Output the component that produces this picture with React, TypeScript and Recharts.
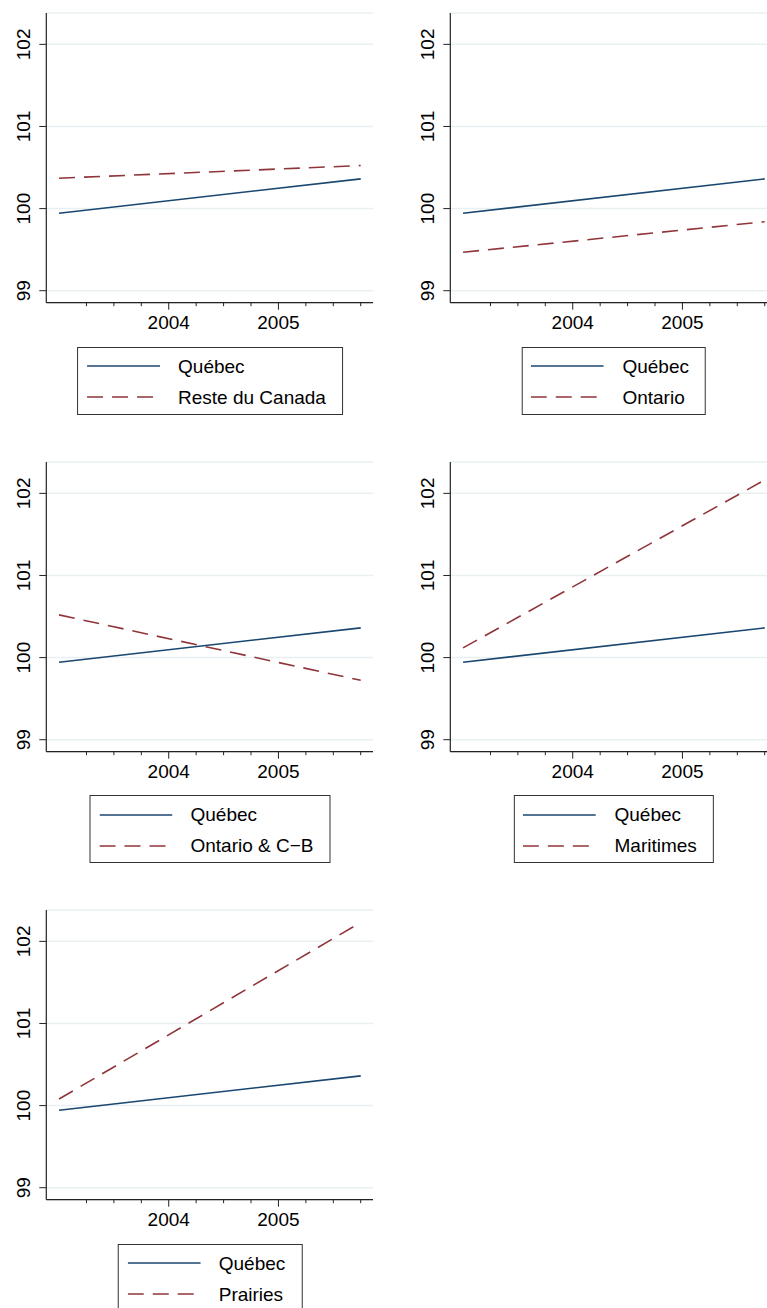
import React from 'react';
import { LineChart, Line, XAxis, YAxis, CartesianGrid } from 'recharts';

// ---- data ----
const years = [2003.0, 2005.75];
const quebec = [99.944, 100.362];
const resteDuCanada = [100.37, 100.524];
const ontario = [99.468, 99.84];
const ontarioCB = [100.52, 99.723];
const maritimes = [100.118, 102.163];
const prairies = [100.08, 102.23];
const quebecName = 'Québec';
const regionNames = ['Reste du Canada', 'Ontario', 'Ontario & C\u2212B', 'Maritimes', 'Prairies'];
const regionSeries = [resteDuCanada, ontario, ontarioCB, maritimes, prairies];
const xTicks = [2003.25, 2003.5, 2003.75, 2004, 2004.25, 2004.5, 2004.75, 2005, 2005.25, 2005.5, 2005.75];
const yTicks = [99, 100, 101, 102];

// ---- style ----
const NAVY = '#1a476f';
const MAROON = '#90353b';
const GRID = '#e8f0f2';
const AXIS = '#222';
const FONT = '"Liberation Sans", Arial, Helvetica, sans-serif';
const FS = 19;
const DASH = '16 9';

const colX = [0, 403.7];
const rowY = [0, 448.5, 897];
const CH_W = 390;
const CH_H = 345;
const PLOT_TOP = 13;
const PLOT_LEFT = 46.3;
const PLOT_RIGHT = 373;
const PLOT_BOTTOM = 302.7;

const XTick = (props: any) => {
  const { x, y, payload } = props;
  const v = payload.value;
  const major = Math.abs(v - Math.round(v)) < 1e-6;
  return (
    <g>
      <line x1={x} x2={x} y1={y} y2={y + (major ? 7 : 3.5)} stroke={AXIS} strokeWidth={1} />
      {major && (
        <text x={x} y={y + 26.5} textAnchor="middle" fontFamily={FONT} fontSize={FS} fill="#000">
          {Math.round(v)}
        </text>
      )}
    </g>
  );
};

const YTick = (props: any) => {
  const { x, y, payload } = props;
  const tx = x - 16;
  return (
    <g>
      <line x1={x - 7} x2={x} y1={y} y2={y} stroke={AXIS} strokeWidth={1} />
      <text
        x={tx}
        y={y}
        textAnchor="middle"
        transform={`rotate(-90, ${tx}, ${y})`}
        fontFamily={FONT}
        fontSize={FS}
        fill="#000"
      >
        {payload.value}
      </text>
    </g>
  );
};

const LegendBox = ({ name }: { name: string }) => {
  const row = (color: string, dash: string | undefined, label: string) => (
    <div style={{ display: 'flex', alignItems: 'center', height: 31 }}>
      <svg width={73} height={6} style={{ display: 'block' }}>
        <line x1={0} x2={73} y1={3} y2={3} stroke={color} strokeWidth={1.6} strokeDasharray={dash} />
      </svg>
      <span style={{ marginLeft: 18.4, fontFamily: FONT, fontSize: FS, color: '#000', whiteSpace: 'nowrap', lineHeight: '31px' }}>
        {label}
      </span>
    </div>
  );
  return (
    <div
      style={{
        position: 'absolute',
        left: 210,
        top: 346.7,
        transform: 'translateX(-50%)',
        border: '1.3px solid #333',
        padding: '3px 16px 3px 8.6px',
        background: '#fff',
        boxSizing: 'border-box',
        height: 68.3,
      }}
    >
      {row(NAVY, undefined, quebecName)}
      {row(MAROON, DASH, name)}
    </div>
  );
};

const Panel = ({ idx }: { idx: number }) => {
  const series = regionSeries[idx];
  const name = regionNames[idx];
  const data = years.map((yr, i) => ({ year: yr, quebec: quebec[i], region: series[i] }));
  const col = idx % 2;
  const row = Math.floor(idx / 2);
  return (
    <div style={{ position: 'absolute', left: colX[col], top: rowY[row], width: CH_W, height: 440 }}>
      <LineChart
        width={CH_W}
        height={CH_H}
        data={data}
        margin={{ top: PLOT_TOP, right: CH_W - PLOT_RIGHT, left: 0, bottom: 0 }}
      >
        <CartesianGrid vertical={false} stroke={GRID} strokeWidth={1.5} />
        <XAxis
          dataKey="year"
          type="number"
          domain={[2002.884, 2005.862]}
          ticks={xTicks}
          allowDataOverflow
          height={CH_H - PLOT_BOTTOM}
          tickSize={0}
          tickMargin={0}
          tickLine={false}
          axisLine={{ stroke: AXIS, strokeWidth: 1.2 }}
          tick={<XTick />}
          interval={0}
        />
        <YAxis
          type="number"
          domain={[98.854, 102.382]}
          ticks={yTicks}
          allowDataOverflow
          width={PLOT_LEFT}
          tickSize={0}
          tickMargin={0}
          tickLine={false}
          axisLine={{ stroke: AXIS, strokeWidth: 1.2 }}
          tick={<YTick />}
          interval={0}
        />
        <Line
          dataKey="quebec"
          stroke={NAVY}
          strokeWidth={1.6}
          dot={false}
          isAnimationActive={false}
        />
        <Line
          dataKey="region"
          stroke={MAROON}
          strokeWidth={1.6}
          strokeDasharray={DASH}
          dot={false}
          isAnimationActive={false}
        />
      </LineChart>
      <LegendBox name={name} />
    </div>
  );
};

export default function App() {
  return (
    <div
      style={{
        position: 'absolute',
        left: 0,
        top: 0,
        width: 767,
        height: 1308,
        overflow: 'hidden',
        background: '#fff',
      }}
    >
      {regionNames.map((_, i) => (
        <Panel key={i} idx={i} />
      ))}
    </div>
  );
}
